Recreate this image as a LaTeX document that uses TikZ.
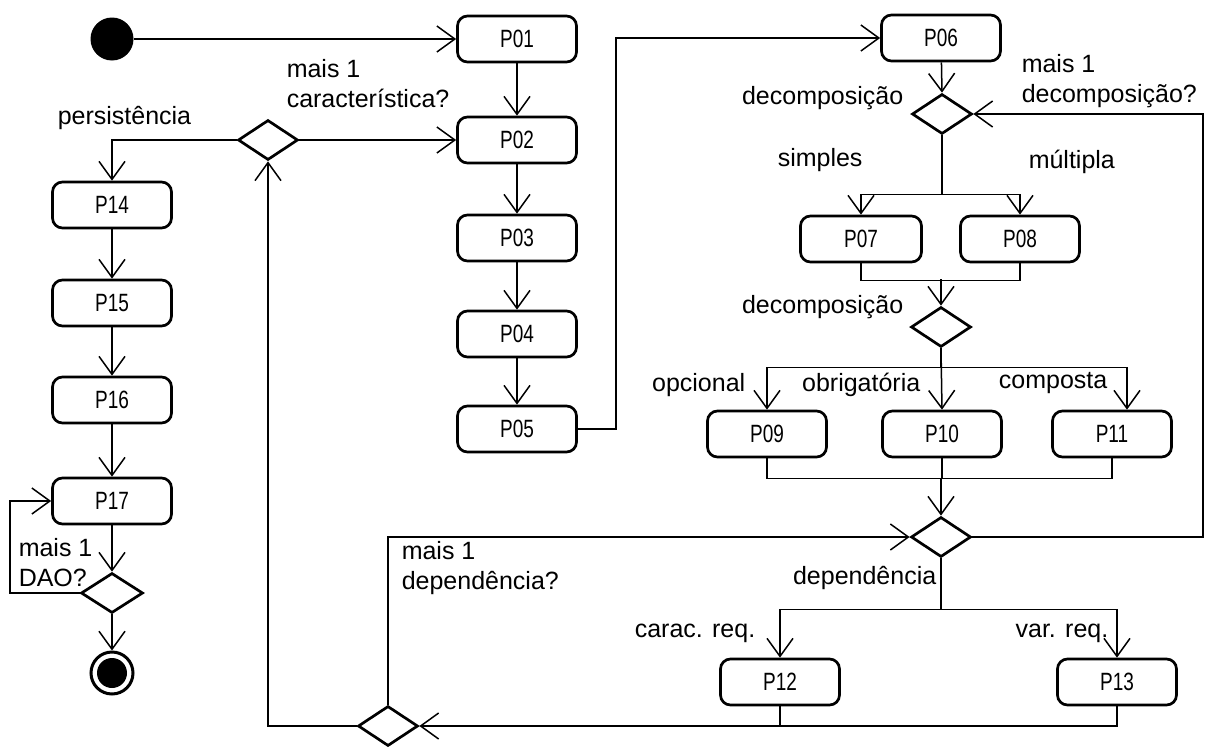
\documentclass[tikz,border=0pt]{standalone}
\usepackage{fontspec}
\setmainfont{Liberation Sans}
\newfontfamily\stepfont[FakeStretch=0.76]{Liberation Sans}
\usetikzlibrary{arrows.meta,shapes.geometric}
\begin{document}
\begin{tikzpicture}[x=1pt,y=-1pt,
  line width=1.5pt,
  stepbox/.style={draw,rounded corners=10pt,line width=2.7pt,minimum width=119pt,minimum height=46pt,inner sep=0pt,font=\fontsize{25}{28}\stepfont},
  decision/.style={draw,diamond,line width=2.7pt,minimum width=60pt,minimum height=40pt,inner sep=0pt},
  guard/.style={inner sep=0pt,font=\fontsize{25}{30}\selectfont,align=left},
  arr/.style={-{Straight Barb[length=18pt,width=26pt]}}]
\useasboundingbox (0,0) rectangle (1205,747);

% initial and final states
\node[circle,fill=black,minimum size=43pt,inner sep=0pt] (start) at (112,39) {};
\node[circle,draw,line width=3pt,fill=white,minimum size=42pt,inner sep=0pt] (stop) at (112,673) {};
\fill[black] (stop.center) circle (15pt);

% main column
\node[stepbox] (P01) at (517,39) {P01};
\node[stepbox] (P02) at (517,140) {P02};
\node[stepbox] (P03) at (517,238) {P03};
\node[stepbox] (P04) at (517,334) {P04};
\node[stepbox] (P05) at (517,429) {P05};

% persistence column
\node[decision] (D1) at (268,140) {};
\node[stepbox] (P14) at (112,205) {P14};
\node[stepbox] (P15) at (112,303) {P15};
\node[stepbox] (P16) at (112,400) {P16};
\node[stepbox] (P17) at (112,501) {P17};
\node[decision,minimum width=62pt] (D17) at (112,593) {};

% decomposition block
\node[stepbox] (P06) at (941,38) {P06};
\node[decision] (D2) at (942,114) {};
\node[stepbox,minimum width=121pt] (P07) at (861,239) {P07};
\node[stepbox] (P08) at (1020,239) {P08};
\node[decision] (D4) at (941,327) {};
\node[stepbox] (P09) at (767,434) {P09};
\node[stepbox] (P10) at (942,434) {P10};
\node[stepbox] (P11) at (1112,434) {P11};
\node[decision] (D3) at (941,537) {};
\node[stepbox] (P12) at (780,682) {P12};
\node[stepbox] (P13) at (1117,682) {P13};
\node[decision] (D5) at (388,726) {};

% helper corners
\coordinate (rr) at (1203,537);
\coordinate (dl) at (10,593);

% connectors
\draw[arr] (start.east) -- (P01.west);
\draw[arr] (P01) -- (P02);
\draw[arr] (P02) -- (P03);
\draw[arr] (P03) -- (P04);
\draw[arr] (P04) -- (P05);
\draw[arr] (P05.east) -- ++(38,0) |- (P06.west);
\draw[arr] (P06) -- (D2.north);
\draw[arr] (D2.south) -- ++(0,59) -| (P07.north);
\draw[arr] (D2.south) -- ++(0,59) -| (P08.north);
\draw (P07.south) -- ++(0,17) -| (P08.south);
\draw[arr] (D4.north |- 0,279) -- (D4.north);
\draw[arr] (D4.south) -- ++(0,19) -| (P09.north);
\draw[arr] (D4.south) -- (P10.north);
\draw[arr] (D4.south) -- ++(0,19) -| ([xshift=15pt]P11.north);
\draw (P09.south) -- ++(0,20) -| (P11.south);
\draw (P10.south) -- ++(0,20);
\draw[arr] (D3.north |- 0,478) -- (D3.north);
\draw[arr] (D3.south) -- ++(0,51) -| (P12.north);
\draw[arr] (D3.south) -- ++(0,51) -| (P13.north);
\draw[arr] (D3.east) -- (rr) |- (D2.east);
\draw (P12.south) -- (P12.south |- D5.east);
\draw[arr] (P13.south) |- (D5.east);
\draw[arr] (D5.west) -| (D1.south);
\draw[arr] (D5.north) |- (D3.west);
\draw[arr] (D1.east) -- (P02.west);
\draw[arr] (D1.west) -| (P14.north);
\draw[arr] (P14) -- (P15);
\draw[arr] (P15) -- (P16);
\draw[arr] (P16) -- (P17);
\draw[arr] (P17) -- (D17.north);
\draw[arr] (D17.west) -- (dl) |- (P17.west);
\draw[arr] (D17.south) -- (stop.north);

% guards
\node[guard,anchor=west] (g1) at (286,84) {mais 1\\característica?};
\node[guard,anchor=west] (g2) at (57,118) {persistência};
\node[guard,anchor=east] (g3) at (904,98) {decomposição};
\node[guard,anchor=west] (g4) at (1021,81) {mais 1\\decomposição?};
\node[guard,anchor=west] (g5) at (777,160) {simples};
\node[guard,anchor=west] (g6) at (1028,162) {múltipla};
\node[guard,anchor=east] (g7) at (904,307) {decomposição};
\node[guard,anchor=east] (g8) at (746,385) {opcional};
\node[guard,anchor=east] (g9) at (921,385) {obrigatória};
\node[guard,anchor=east] (g10) at (1108,383) {composta};
\node[guard,anchor=west] (g11) at (401,568) {mais 1\\dependência?};
\node[guard,anchor=east] (g12) at (937,578) {dependência};
\node[guard,anchor=east] (g13) at (756,633) {carac. req.};
\node[guard,anchor=east] (g14) at (1109,633) {var. req.};
\node[guard,anchor=west] (g15) at (18,563) {mais 1\\DAO?};
\end{tikzpicture}
\end{document}
